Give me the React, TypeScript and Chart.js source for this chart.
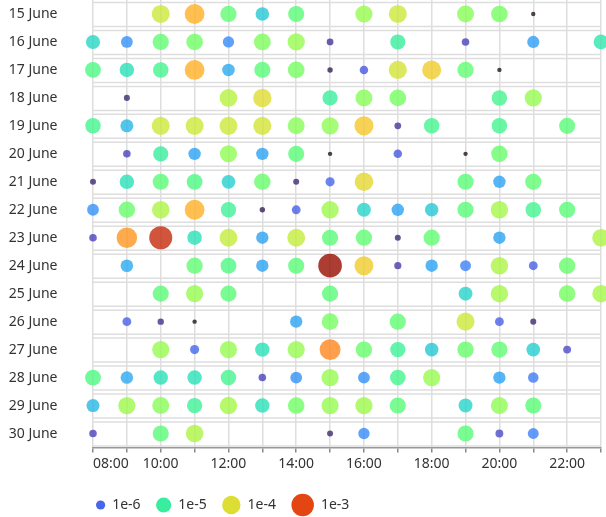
import React, { useEffect, useRef } from 'react';
import { Chart, registerables } from 'chart.js';

Chart.register(...registerables);

// ---------- data ----------
const dayLabels = [
  '15 June', '16 June', '17 June', '18 June', '19 June', '20 June', '21 June', '22 June',
  '23 June', '24 June', '25 June', '26 June', '27 June', '28 June', '29 June', '30 June',
];

// hours of the day (x values), 08:00 … 23:00
const hours = [8, 9, 10, 11, 12, 13, 14, 15, 16, 17, 18, 19, 20, 21, 22, 23];

// log10 of the measured value per hour (null = no record)
const june15 = [null, null, -4.1, -3.65, -4.7, -5.37, -4.74, null, -4.4, -4.1, null, -4.48, -4.57, -6.6, null, null];
const june16 = [-5.24, -5.74, -4.7, -4.6, -5.79, -4.53, -4.4, -6.29, null, -5.0, null, -6.2, null, -5.66, null, -5.1];
const june17 = [-4.82, -5.16, -4.9, -3.65, -5.58, -4.74, -4.57, -6.42, -6.08, -4.06, -3.85, -4.7, -6.5, null, null, null];
const june18 = [null, -6.37, null, null, -4.23, -3.98, null, -4.99, -4.48, -4.57, null, null, -4.9, -4.4, null, null];
const june19 = [-4.9, -5.49, -4.1, -4.1, -4.1, -4.06, -4.48, -4.44, -3.81, -6.29, -4.9, null, -4.9, null, -4.74, null];
const june20 = [null, -6.2, -5.0, -5.62, -4.44, -5.62, -4.74, -6.5, null, -6.08, null, -6.6, -4.65, null, null, null];
const june21 = [-6.37, -5.16, -4.74, -4.82, -5.32, -4.65, -6.37, -6.0, -3.94, null, null, -4.74, -5.62, -4.7, null, null];
const june22 = [-5.74, -4.65, -4.27, -3.65, -4.95, -6.42, -6.04, -4.36, -5.28, -5.62, -5.37, -4.74, -4.32, -4.9, -4.74, null];
const june23 = [-6.2, -3.48, -2.8, -5.16, -4.15, -5.62, -4.15, -4.74, -4.7, -6.37, -4.7, null, -5.62, null, null, -4.27];
const june24 = [null, -5.58, null, -4.7, -4.82, -5.62, -4.74, -2.47, -3.85, -6.25, -5.62, -5.83, -4.27, -6.04, -4.65, null];
const june25 = [null, null, -4.74, -4.4, -4.74, null, null, -4.74, null, null, null, -5.28, -4.32, null, -4.57, -4.32];
const june26 = [null, -6.04, -6.33, -6.5, null, null, -5.62, -4.57, null, -4.7, null, -4.1, -6.04, -6.37, null, null];
const june27 = [null, null, -4.4, -6.0, -4.4, -5.16, -4.4, -3.39, -4.65, -4.95, -5.37, -4.65, -4.7, -5.32, -6.16, null];
const june28 = [-4.82, -5.58, -5.16, -5.16, -4.9, -6.2, -5.74, -4.4, -5.74, -4.9, -4.4, null, -5.62, -5.87, null, null];
const june29 = [-5.49, -4.36, -4.48, -4.95, -4.32, -5.16, -4.6, -4.4, -4.36, -4.74, null, -5.28, -4.44, -4.74, null, null];
const june30 = [-6.2, null, -4.74, -4.27, null, null, null, -6.37, -5.79, null, null, -4.74, -6.16, -5.83, null, null];

const dayValues = [
  june15, june16, june17, june18, june19, june20, june21, june22,
  june23, june24, june25, june26, june27, june28, june29, june30,
];

// legend entries (log10 values and their labels)
const legendValues = [-6, -5, -4, -3];
const legendLabels = ['1e-6', '1e-5', '1e-4', '1e-3'];

// ---------- visual mapping (style) ----------
const LOG_MIN = -6.5;
const LOG_MAX = -2.3;
const FONT = '"Noto Sans", sans-serif';

function turbo(t: number): [number, number, number] {
  const x = Math.min(1, Math.max(0, t));
  const r = 0.13572138 + x * (4.6153926 + x * (-42.66032258 + x * (132.13108234 + x * (-152.94239396 + x * 59.28637943))));
  const g = 0.09140261 + x * (2.19418839 + x * (4.84296658 + x * (-14.18503333 + x * (4.27729857 + x * 2.82956604))));
  const b = 0.1066733 + x * (12.64194608 + x * (-60.58204836 + x * (110.36276771 + x * (-89.90310912 + x * 27.34824973))));
  const c = (v: number) => Math.round(255 * Math.min(1, Math.max(0, v)));
  return [c(r), c(g), c(b)];
}

const sizeStops: [number, number][] = [
  [0, 2.2], [0.03, 3.0], [0.06, 3.6], [0.12, 4.6], [0.18, 5.9], [0.25, 6.6],
  [0.36, 7.6], [0.45, 8.3], [0.6, 9.2], [0.7, 10.1], [0.85, 11.4], [1, 12],
];

function norm(v: number) {
  return Math.min(1, Math.max(0, (v - LOG_MIN) / (LOG_MAX - LOG_MIN)));
}
function radiusFor(v: number) {
  const t = norm(v);
  for (let i = 1; i < sizeStops.length; i++) {
    const [t1, r1] = sizeStops[i];
    const [t0, r0] = sizeStops[i - 1];
    if (t <= t1) return r0 + ((t - t0) / (t1 - t0)) * (r1 - r0);
  }
  return sizeStops[sizeStops.length - 1][1];
}
function colorFor(v: number, alpha: number) {
  const [r, g, b] = turbo(norm(v));
  return `rgba(${r},${g},${b},${alpha})`;
}
function hourLabel(h: number) {
  return (h < 10 ? '0' : '') + h + ':00';
}

// ---------- plugins ----------
const rowBoxes = {
  id: 'rowBoxes',
  beforeDatasetsDraw(chart: any) {
    const { ctx, chartArea } = chart;
    const y = chart.scales.y;
    ctx.save();
    ctx.strokeStyle = '#dedede';
    ctx.lineWidth = 1.5;
    dayLabels.forEach((_, i) => {
      const cy = y.getPixelForValue(i);
      ctx.beginPath();
      ctx.moveTo(chartArea.left, cy - 11.5);
      ctx.lineTo(chartArea.right, cy - 11.5);
      ctx.moveTo(chartArea.left, cy + 12.5);
      ctx.lineTo(chartArea.right, cy + 12.5);
      ctx.stroke();
    });
    ctx.restore();
  },
};

const firstLabelAlign = {
  id: 'firstLabelAlign',
  beforeDraw(chart: any) {
    const sx = chart.scales.x;
    if (!sx || !sx.getLabelItems) return;
    const items = sx.getLabelItems(chart.chartArea);
    const first = items.find((it: any) => it.label === hourLabel(hours[0]));
    if (first && first.options) first.options.textAlign = 'left';
  },
};

const sizeLegend = {
  id: 'sizeLegend',
  afterDraw(chart: any) {
    const { ctx } = chart;
    ctx.save();
    ctx.font = `14px ${FONT}`;
    ctx.textBaseline = 'middle';
    ctx.textAlign = 'left';
    let x = 96;
    const y = 505;
    legendValues.forEach((v, i) => {
      const r = radiusFor(v);
      ctx.fillStyle = colorFor(v, 1);
      ctx.beginPath();
      ctx.arc(x + r, y, r, 0, Math.PI * 2);
      ctx.fill();
      ctx.fillStyle = '#333';
      const tx = x + 2 * r + 7;
      ctx.fillText(legendLabels[i], tx, y);
      x = tx + ctx.measureText(legendLabels[i]).width + 15.5;
    });
    ctx.restore();
  },
};

export default function App() {
  const canvasRef = useRef<HTMLCanvasElement | null>(null);

  useEffect(() => {
    if (!canvasRef.current) return;
    Chart.defaults.font.family = FONT;
    Chart.defaults.font.size = 14;
    Chart.defaults.color = '#333';

    const datasets = dayLabels.map((day, di) => ({
      label: day,
      data: hours
        .map((h, hi) => (dayValues[di][hi] == null ? null : { x: h, y: day, v: dayValues[di][hi] as number }))
        .filter((p) => p !== null),
      backgroundColor: (c: any) => (c.raw ? colorFor(c.raw.v, 0.8) : 'transparent'),
      radius: (c: any) => (c.raw ? radiusFor(c.raw.v) : 0),
      borderWidth: 0,
      hoverRadius: 0,
      clip: false as any,
    }));

    const chart = new Chart(canvasRef.current, {
      type: 'bubble',
      data: { datasets: datasets as any },
      options: {
        animation: false,
        responsive: false,
        devicePixelRatio: 1,
        events: [],
        layout: { autoPadding: false, padding: { top: 0, left: 0, right: 5, bottom: 39.5 } },
        plugins: {
          legend: { display: false },
          tooltip: { enabled: false },
        },
        scales: {
          x: {
            type: 'linear',
            min: hours[0],
            max: hours[hours.length - 1],
            afterFit: (s: any) => {
              s.height = 30;
              s.paddingLeft = 0;
              s.paddingRight = 0;
            },
            ticks: {
              stepSize: 1,
              autoSkip: false,
              maxRotation: 0,
              padding: 3,
              color: '#333',
              font: { size: 14, family: FONT },
              callback: (val: any) => (Number(val) % 2 === 0 ? hourLabel(Number(val)) : ''),
            },
            grid: {
              color: '#dedede',
              lineWidth: 1.5,
              drawTicks: true,
              tickLength: 5,
              tickColor: '#888',
            },
            border: { display: true, color: '#999', width: 1.5 },
          },
          y: {
            type: 'category',
            labels: dayLabels,
            offset: true,
            afterFit: (s: any) => {
              s.width = 93;
              s.paddingTop = 0;
              s.paddingBottom = 0;
            },
            ticks: {
              padding: 35.5,
              color: '#333',
              font: { size: 14, family: FONT },
            },
            grid: { display: false, drawTicks: false },
            border: { display: false },
          },
        },
      },
      plugins: [rowBoxes, firstLabelAlign, sizeLegend],
    });

    return () => chart.destroy();
  }, []);

  return (
    <div style={{ position: 'fixed', left: 0, top: 0, width: 606, height: 517, background: '#fff' }}>
      <canvas ref={canvasRef} width={606} height={517} style={{ width: 606, height: 517, display: 'block' }} />
    </div>
  );
}
